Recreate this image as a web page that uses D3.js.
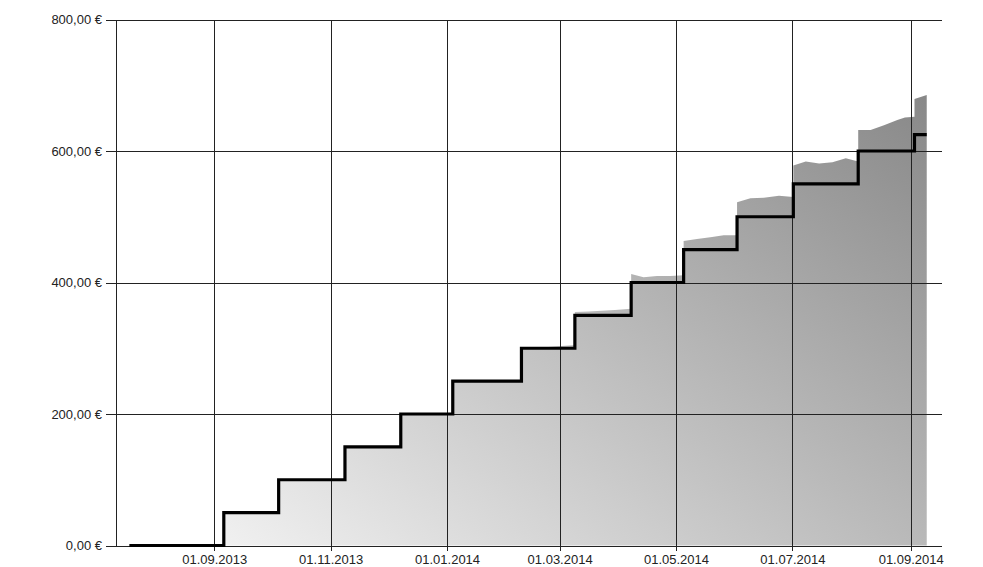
<!DOCTYPE html>
<html>
<head>
<meta charset="utf-8">
<script src="https://cdn.jsdelivr.net/npm/d3@7"></script>
<style>
  body { margin: 0; background: #fff; }
  text { font-family: "Liberation Sans", Arial, sans-serif; font-size: 13px; fill: #222; }
</style>
</head>
<body>
<svg id="chart" width="983" height="567"></svg>
<script>
// paid in (step line)
var depositDates = ["2013-07-18 12:00", "2013-09-06 00:00", "2013-10-04 18:00", "2013-11-08 12:00",
	"2013-12-07 18:00", "2014-01-04 00:00", "2014-02-09 00:00", "2014-03-09 00:00", "2014-04-07 12:00",
	"2014-05-05 00:00", "2014-06-02 00:00", "2014-07-01 12:00", "2014-08-04 12:00", "2014-09-03 00:00",
	"2014-09-09 10:00"];
var depositValues = [0, 50, 100, 150, 200, 250, 300, 350, 400, 450, 500, 550, 600, 625, 625];

// portfolio value (grey area)
var valueDates = ["2013-07-18 12:00", "2013-09-06 00:00", "2013-09-06 00:00", "2013-10-04 18:00", "2013-10-04 18:00",
	"2013-11-08 12:00", "2013-11-08 12:00", "2013-12-07 18:00", "2013-12-07 18:00", "2014-01-04 00:00",
	"2014-01-04 00:00", "2014-02-09 00:00", "2014-02-09 00:00", "2014-02-23 00:00", "2014-03-09 00:00",
	"2014-03-09 00:00", "2014-03-16 00:00", "2014-03-23 00:00", "2014-03-30 00:00", "2014-04-07 12:00",
	"2014-04-07 12:00", "2014-04-14 00:00", "2014-04-21 00:00", "2014-04-28 00:00", "2014-05-05 00:00",
	"2014-05-05 00:00", "2014-05-12 00:00", "2014-05-19 00:00", "2014-05-26 00:00", "2014-06-02 00:00",
	"2014-06-02 00:00", "2014-06-09 00:00", "2014-06-16 00:00", "2014-06-24 00:00", "2014-07-01 12:00",
	"2014-07-01 12:00", "2014-07-08 00:00", "2014-07-15 00:00", "2014-07-22 00:00", "2014-07-29 00:00", "2014-08-04 12:00",
	"2014-08-04 12:00", "2014-08-11 00:00", "2014-08-18 00:00", "2014-08-25 00:00", "2014-08-29 00:00", "2014-09-03 00:00",
	"2014-09-03 00:00", "2014-09-09 10:00"];
var valueValues = [0, 0, 50, 50, 100,
	100, 150, 150, 200, 200,
	250, 251, 300, 302, 305,
	355, 356, 357, 358, 360,
	413, 408, 410, 410, 411,
	463, 466, 469, 472, 472,
	522, 528, 529, 532, 530,
	578, 584, 581, 583, 589, 584,
	632, 632, 639, 647, 651, 652,
	679, 685];

var xTicks = ["2013-09-01 00:00", "2013-11-01 00:00", "2014-01-01 00:00", "2014-03-01 00:00",
	"2014-05-01 00:00", "2014-07-01 00:00", "2014-09-01 00:00"];
var yTicks = [0, 200, 400, 600, 800];

var parse = d3.timeParse("%Y-%m-%d %H:%M");
var euro = d3.formatLocale({decimal: ",", thousands: ".", grouping: [3], currency: ["", " €"]}).format("$,.2f");

var svg = d3.select("#chart");
var plotLeft = 116, plotRight = 942, plotTop = 19.5, plotBottom = 545.5;

var x = d3.scaleTime()
	.domain([parse("2013-07-11 12:00"), parse("2014-09-17 10:00")])
	.range([plotLeft, plotRight]);
var y = d3.scaleLinear().domain([0, 800]).range([plotBottom, plotTop]);

// fill fades from light (bottom left) to dark (top right), steeper than the diagonal
var defs = svg.append("defs");
var grad = defs.append("linearGradient")
	.attr("id", "fade")
	.attr("gradientUnits", "userSpaceOnUse")
	.attr("x1", 129).attr("y1", 545)
	.attr("x2", 623).attr("y2", -129);
grad.append("stop").attr("offset", 0).attr("stop-color", "#f8f8f8");
grad.append("stop").attr("offset", 1).attr("stop-color", "#888888");

var valueData = valueDates.map(function(d, i) { return {date: parse(d), value: valueValues[i]}; });
var depositData = depositDates.map(function(d, i) { return {date: parse(d), value: depositValues[i]}; });

var area = d3.area()
	.x(function(d) { return x(d.date); })
	.y0(y(0))
	.y1(function(d) { return y(d.value); });

svg.append("path")
	.datum(valueData)
	.attr("d", area)
	.attr("fill", "url(#fade)");

// y axis with grid lines
var yAxis = svg.append("g")
	.attr("transform", "translate(" + plotLeft + ",0)")
	.call(d3.axisLeft(y).tickValues(yTicks).tickSize(10).tickPadding(4).tickFormat(euro));
yAxis.select(".domain").remove();
yAxis.selectAll(".tick line")
	.attr("x1", -10)
	.attr("x2", plotRight - plotLeft)
	.attr("stroke", "#222")
	.attr("shape-rendering", "crispEdges");

// x axis with grid lines
var xAxis = svg.append("g")
	.attr("transform", "translate(0," + plotBottom + ")")
	.call(d3.axisBottom(x).tickValues(xTicks.map(parse)).tickSize(5).tickPadding(4).tickFormat(d3.timeFormat("%d.%m.%Y")));
xAxis.select(".domain").remove();
xAxis.selectAll(".tick line")
	.attr("y1", plotTop - plotBottom)
	.attr("y2", 5)
	.attr("stroke", "#222")
	.attr("shape-rendering", "crispEdges");

svg.append("line")
	.attr("x1", plotLeft + 0.5).attr("x2", plotLeft + 0.5)
	.attr("y1", plotTop).attr("y2", plotBottom)
	.attr("stroke", "#222")
	.attr("shape-rendering", "crispEdges");

var stepLine = d3.line()
	.curve(d3.curveStepAfter)
	.x(function(d) { return x(d.date); })
	.y(function(d) { return y(d.value); });

svg.append("path")
	.datum(depositData)
	.attr("d", stepLine)
	.attr("fill", "none")
	.attr("stroke", "#000")
	.attr("stroke-width", 3.2)
	.attr("stroke-linejoin", "miter");
</script>
</body>
</html>
